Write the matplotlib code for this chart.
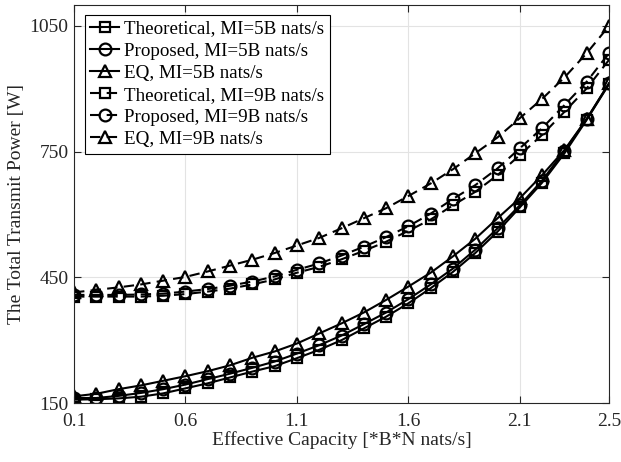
import matplotlib
matplotlib.use('Agg')
import matplotlib.pyplot as plt

plt.rcParams['font.family'] = ['Liberation Serif', 'DejaVu Serif']
plt.rcParams['mathtext.fontset'] = 'stix'

# x values: effective capacity
cap = [0.1, 0.2, 0.3, 0.4, 0.5, 0.6, 0.7, 0.8, 0.9, 1.0, 1.1, 1.2, 1.3,
       1.4, 1.5, 1.6, 1.7, 1.8, 1.9, 2.0, 2.1, 2.2, 2.3, 2.4, 2.5]

# MI = 5B nats/s
theo_5 = [158, 159, 161, 165, 173, 185, 197, 211, 225, 238, 257, 277, 300,
          328, 356, 388, 424, 463, 508, 559, 617, 676, 746, 826, 911]
prop_5 = [162, 162, 167, 174, 183, 194, 207, 220, 234, 249, 268, 288, 311,
          338, 366, 398, 433, 471, 516, 567, 622, 681, 752, 828, 913]
eq_5 = [166, 172, 183, 192, 203, 214, 226, 240, 258, 273, 292, 316, 340,
        366, 396, 428, 461, 500, 542, 591, 639, 694, 754, 828, 913]

# MI = 9B nats/s
theo_9 = [404, 404, 404, 404, 406, 410, 416, 423, 433, 445, 461, 475, 493,
          513, 535, 561, 588, 622, 654, 694, 742, 790, 845, 901, 969]
prop_9 = [408, 408, 408, 409, 411, 416, 422, 430, 440, 452, 468, 483, 502,
          523, 546, 572, 602, 637, 670, 710, 758, 806, 861, 917, 985]
eq_9 = [414, 420, 426, 433, 442, 451, 464, 478, 492, 508, 526, 544, 567,
        591, 615, 644, 674, 708, 746, 784, 830, 876, 927, 985, 1050]

labels = ['Theoretical, MI=5B nats/s', 'Proposed, MI=5B nats/s', 'EQ, MI=5B nats/s',
          'Theoretical, MI=9B nats/s', 'Proposed, MI=9B nats/s', 'EQ, MI=9B nats/s']

fig = plt.figure(figsize=(6.21, 4.62), dpi=100)
ax = fig.add_axes([0.1192, 0.1277, 0.8615, 0.8615])

style = dict(color='black', linewidth=1.5, markerfacecolor='none', markeredgewidth=1.6)
ax.plot(cap, theo_5, 's-', markersize=7.5, label=labels[0], **style)
ax.plot(cap, prop_5, 'o-', markersize=8.5, label=labels[1], **style)
ax.plot(cap, eq_5, '^-', markersize=9, label=labels[2], **style)
ax.plot(cap, theo_9, 's--', markersize=7.5, dashes=(5, 3), label=labels[3], **style)
ax.plot(cap, prop_9, 'o--', markersize=8.5, dashes=(5, 3), label=labels[4], **style)
ax.plot(cap, eq_9, '^--', markersize=9, dashes=(5, 3), label=labels[5], **style)

ax.set_xlim(0.1, 2.5)
ax.set_ylim(150, 1100)
ax.set_xticks([0.1, 0.6, 1.1, 1.6, 2.1, 2.5])
ax.set_xticklabels(['0.1', '0.6', '1.1', '1.6', '2.1', '2.5'])
ax.set_yticks([150, 450, 750, 1050])
ax.grid(True, color='#e3e3e3', linewidth=0.8)
ax.set_axisbelow(True)
ax.tick_params(direction='in', top=True, right=True, labelsize=14,
               colors='#262626', length=5)
ax.tick_params(axis='x', pad=7)
ax.tick_params(axis='y', pad=4)
for s in ax.spines.values():
    s.set_color('#262626')
    s.set_linewidth(0.8)

ax.set_xlabel('Effective Capacity [*B*N nats/s]', fontsize=14, color='#262626', labelpad=1)
ax.set_ylabel('The Total Transmit Power [W]', fontsize=14, color='#262626', labelpad=3)

leg = ax.legend(loc='upper left', bbox_to_anchor=(0.02, 0.976), fontsize=13.7,
                frameon=True, fancybox=False, framealpha=1, edgecolor='black',
                handlelength=1.5, handletextpad=0.25, labelspacing=0.25,
                borderpad=0.3, borderaxespad=0)
leg.get_frame().set_linewidth(0.8)

plt.savefig('out.png', dpi=100)
